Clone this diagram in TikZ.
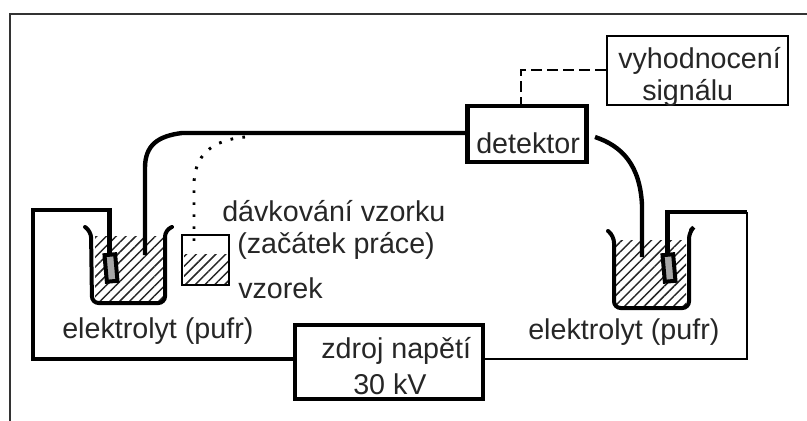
\documentclass[tikz,border=0pt]{standalone}
\usepackage{fontspec}
\setmainfont{Liberation Sans}
\usetikzlibrary{patterns.meta}
\tikzset{
    wire/.style={black, line width=3.3pt},
    thinwire/.style={black, line width=2pt},
    thickbox/.style={draw=black, line width=3.4pt, fill=white, align=center, inner sep=0pt},
    thinbox/.style={draw=black, line width=1.5pt, align=center, inner sep=0pt},
    label/.style={inner sep=0pt, anchor=base west, text=black!85},
    electrode/.style={draw=black, line width=3pt, fill=black!35, minimum width=8pt, minimum height=20pt, inner sep=0pt, rotate=5},
    liquid/.style={pattern={Lines[angle=45, distance=5.2pt, line width=1.1pt]}, pattern color=black!85},
    beaker/.style={black, line width=3pt, rounded corners=5pt, line cap=round}
}
\begin{document}
\begin{tikzpicture}[x=0.75pt, y=-0.75pt, font=\fontsize{21.5}{28}\selectfont]
    \useasboundingbox (0,0) rectangle (807,421);
    % Frame
    \draw[black!80, line width=1.5pt] (10,421) -- (10,14) -- (807,14);

    % Liquid
    \fill[liquid] (95,236) rectangle (165,301);
    \fill[liquid] (616,240) rectangle (686,305);
    \fill[liquid] (184,254) rectangle (228,284);

    % Beakers
    \draw[beaker] (85,227) -- (91,231) -- (92,303) -- (165,303) -- (165,230) -- (172,227);
    \draw[beaker] (608,231) -- (614,236) -- (614,308) -- (689,308) -- (689,232) -- (691,230);

    % Boxes
    \node[thickbox, minimum width=89pt, minimum height=42pt] (detektor) at (527,134) {};
    \node[thinbox, minimum width=136pt, minimum height=52pt] (vyhodnoceni) at (697.5,70.5) {};
    \node[thickbox, minimum width=141pt, minimum height=55.5pt] (zdroj) at (389,362) {};
    \node[thinbox, minimum width=35pt, minimum height=37pt] (vzorek) at (205.5,260) {};
    \node[electrode] (anoda) at (111,268) {};
    \node[electrode] (katoda) at (669,268) {};

    % Wire ends
    \coordinate (leftcorner) at (33,359);
    \coordinate (rightcorner) at (747,359);
    \coordinate (leftend) at (145,255);
    \coordinate (rightend) at (642,257);
    \coordinate (dotend) at (194,250);
    \coordinate (dashcorner) at (521,70);

    % Wires
    \draw[wire] (zdroj.west |- leftcorner) -- (leftcorner) -- (33,210) -| (anoda.north);
    \draw[wire] (katoda.north) |- (747,212);
    \draw[thinwire] (747,212) -- (rightcorner) -- (zdroj.east |- rightcorner);
    \draw[wire] (detektor.west |- 0,133) -- (182,133) .. controls (158,136) and (145,145) .. (145,168) -- (leftend);
    \draw[wire] (595,137) .. controls (622,146) and (640,165) .. (642,205) -- (rightend);
    \draw[black, line width=2.2pt, dash pattern=on 2pt off 7pt] (245,137) .. controls (212,140) and (194,155) .. (194,185) -- (dotend);
    \draw[black, line width=1.5pt, dash pattern=on 8pt off 4pt] (vyhodnoceni.west |- dashcorner) -- (dashcorner) -- (detektor.north -| dashcorner);

    % Labels
    \node[label] (detektortext) at (476,153) {detektor};
    \node[label] (vyhodnocenitext) at (618,68) {vyhodnocení};
    \node[label] (signaltext) at (642,100) {signálu};
    \node[label] (zdrojtext) at (321,358) {zdroj napětí};
    \node[label] (napetitext) at (353,394) {30 kV};
    \node[label] (davkovanitext) at (222,221) {dávkování vzorku};
    \node[label] (zacatektext) at (237,253) {(začátek práce)};
    \node[label] (vzorektext) at (238,298) {vzorek};
    \node[label] (levytext) at (62,338) {elektrolyt (pufr)};
    \node[label] (pravytext) at (528,339) {elektrolyt (pufr)};
\end{tikzpicture}
\end{document}
